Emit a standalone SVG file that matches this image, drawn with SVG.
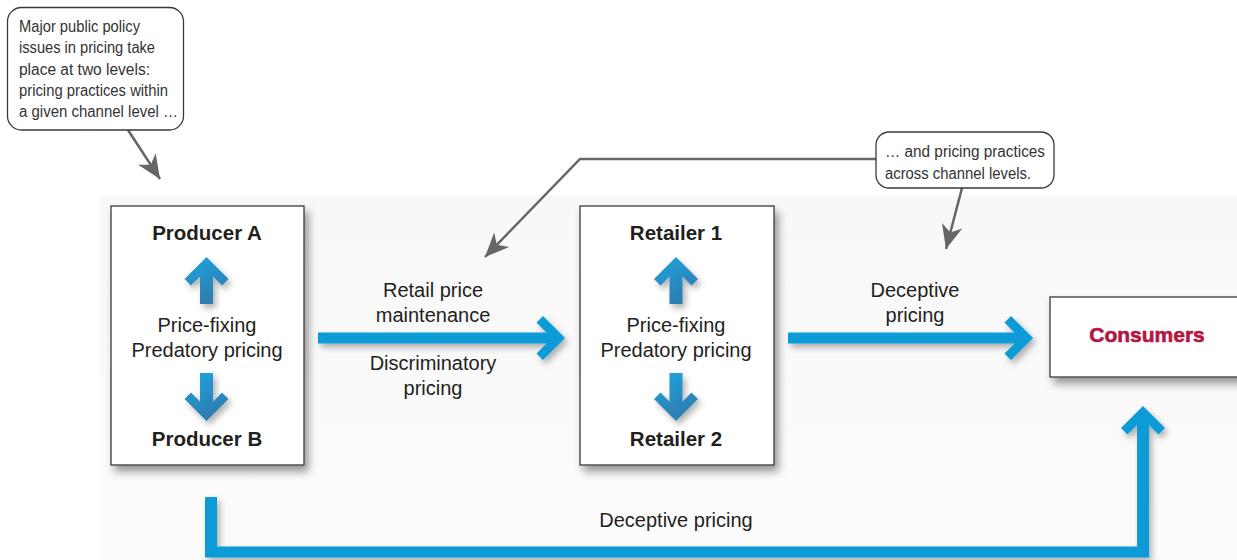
<svg xmlns="http://www.w3.org/2000/svg" width="1237" height="560" viewBox="0 0 1237 560">
  <defs>
    <style>
      .box { fill: #ffffff; stroke: #3a3a3a; stroke-width: 1.3; }
      .callout { fill: #ffffff; stroke: #3a3a3a; stroke-width: 1.3; }
      .ctext { font-family: "Liberation Sans Narrow", "Liberation Sans", Arial, sans-serif; font-size: 16px; fill: #333333; }
      .head { font-family: "Liberation Sans", Arial, sans-serif; font-size: 20.5px; font-weight: bold; fill: #231f20; text-anchor: middle; }
      .lbl { font-family: "Liberation Sans", Arial, sans-serif; font-size: 20px; fill: #231f20; text-anchor: middle; }
      .blue { fill: #0a9bd7; }
      .small { fill: url(#smallGrad); }
      .pointer { fill: none; stroke: #666668; stroke-width: 2.5; }
    </style>
    <linearGradient id="smallGrad" x1="0" y1="0" x2="0.4" y2="1">
      <stop offset="0" stop-color="#1ea4de"/>
      <stop offset="1" stop-color="#2e7db0"/>
    </linearGradient>
    <linearGradient id="bgGrad" x1="0" y1="0" x2="0" y2="1">
      <stop offset="0" stop-color="#f8f8f8"/>
      <stop offset="1" stop-color="#fcfcfc"/>
    </linearGradient>
    <filter id="boxShadow" x="-20%" y="-20%" width="140%" height="140%">
      <feDropShadow dx="4" dy="6" stdDeviation="4" flood-color="#000000" flood-opacity="0.4"/>
    </filter>
    <filter id="arrowShadow" x="-20%" y="-50%" width="140%" height="200%">
      <feDropShadow dx="3" dy="4" stdDeviation="3" flood-color="#000000" flood-opacity="0.3"/>
    </filter>
    <marker id="greyHead" markerUnits="userSpaceOnUse" viewBox="-26 -12 28 24" markerWidth="28" markerHeight="24" refX="0" refY="0" orient="auto">
      <path d="M0,0 L-24,-10.5 L-17,0 L-24,10.5 Z" fill="#666668"/>
    </marker>
  </defs>

  <rect x="0" y="0" width="1237" height="560" fill="#ffffff"/>
  <rect x="100" y="196" width="1137" height="364" fill="url(#bgGrad)"/>

  <!-- Connectors -->
  <g id="connectors">
    <polygon id="arrow-producer-retailer" class="blue" filter="url(#arrowShadow)" points="565,338 543,360 536.5,353.5 546.5,343.5 318,343.5 318,332.5 546.5,332.5 536.5,322.5 543,316"/>
    <polygon id="arrow-retailer-consumers" class="blue" filter="url(#arrowShadow)" points="1033,338 1011,360 1004.5,353.5 1014.5,343.5 788,343.5 788,332.5 1014.5,332.5 1004.5,322.5 1011,316"/>
    <polygon id="arrow-producer-consumers" class="blue" filter="url(#arrowShadow)" points="1143,406 1165,428 1158.5,434.5 1149,425 1149,557.5 205,557.5 205,497 217,497 217,546.5 1137,546.5 1137,425 1127.5,434.5 1121,428"/>

    <path class="pointer" d="M128,130 L160,179" marker-end="url(#greyHead)"/>
    <path class="pointer" d="M876,159 L580,159 L485,257" marker-end="url(#greyHead)"/>
    <path class="pointer" d="M962,188 L946,249" marker-end="url(#greyHead)"/>

    <g id="connector-labels">
      <text class="lbl" x="433" y="297">Retail price</text>
      <text class="lbl" x="433" y="322">maintenance</text>
      <text class="lbl" x="433" y="370">Discriminatory</text>
      <text class="lbl" x="433" y="395">pricing</text>
      <text class="lbl" x="915" y="297">Deceptive</text>
      <text class="lbl" x="915" y="322">pricing</text>
      <text class="lbl" x="676" y="527">Deceptive pricing</text>
    </g>
  </g>

  <!-- Callout 1 -->
  <g id="callout-within">
    <rect class="callout" x="7.5" y="7.5" width="176" height="122.5" rx="14" ry="14"/>
    <text class="ctext" x="19" y="32" textLength="121" lengthAdjust="spacingAndGlyphs">Major public policy</text>
    <text class="ctext" x="19" y="53" textLength="136" lengthAdjust="spacingAndGlyphs">issues in pricing take</text>
    <text class="ctext" x="19" y="74.5" textLength="131" lengthAdjust="spacingAndGlyphs">place at two levels:</text>
    <text class="ctext" x="19" y="96" textLength="149" lengthAdjust="spacingAndGlyphs">pricing practices within</text>
    <text class="ctext" x="19" y="117" textLength="159" lengthAdjust="spacingAndGlyphs">a given channel level …</text>
  </g>

  <!-- Callout 2 -->
  <g id="callout-across">
    <rect class="callout" x="876" y="132" width="178" height="56" rx="13" ry="13"/>
    <text class="ctext" x="885" y="157" textLength="160" lengthAdjust="spacingAndGlyphs">… and pricing practices</text>
    <text class="ctext" x="885" y="179" textLength="146" lengthAdjust="spacingAndGlyphs">across channel levels.</text>
  </g>

  <!-- Producers -->
  <g id="producers">
    <rect class="box" x="111" y="206" width="193" height="259" filter="url(#boxShadow)"/>
    <text class="head" x="207" y="240">Producer A</text>
    <polygon class="small" filter="url(#arrowShadow)" points="206.5,257 228.5,279 222,285.5 213,276.5 213,304 200,304 200,276.5 191,285.5 184.5,279"/>
    <text class="lbl" x="207" y="332">Price-fixing</text>
    <text class="lbl" x="207" y="357">Predatory pricing</text>
    <polygon class="small" filter="url(#arrowShadow)" points="206.5,421 228.5,399 222,392.5 213,401.5 213,373 200,373 200,401.5 191,392.5 184.5,399"/>
    <text class="head" x="207" y="446">Producer B</text>
  </g>

  <!-- Retailers -->
  <g id="retailers">
    <rect class="box" x="580" y="206" width="194" height="259" filter="url(#boxShadow)"/>
    <text class="head" x="676" y="240">Retailer 1</text>
    <polygon class="small" filter="url(#arrowShadow)" points="676,257 698,279 691.5,285.5 682.5,276.5 682.5,304 669.5,304 669.5,276.5 660.5,285.5 654,279"/>
    <text class="lbl" x="676" y="332">Price-fixing</text>
    <text class="lbl" x="676" y="357">Predatory pricing</text>
    <polygon class="small" filter="url(#arrowShadow)" points="676,421 698,399 691.5,392.5 682.5,401.5 682.5,373 669.5,373 669.5,401.5 660.5,392.5 654,399"/>
    <text class="head" x="676" y="446">Retailer 2</text>
  </g>

  <!-- Consumers -->
  <g id="consumers">
    <rect class="box" x="1050" y="297" width="200" height="80" filter="url(#boxShadow)"/>
    <text x="1147" y="342" text-anchor="middle" font-family="'Liberation Sans', Arial, sans-serif" font-size="21" font-weight="bold" fill="#b3173f" stroke="#b3173f" stroke-width="0.6">Consumers</text>
  </g>
</svg>
